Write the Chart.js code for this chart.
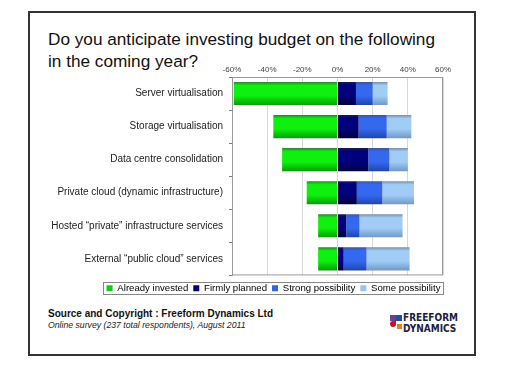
<!DOCTYPE html>
<html>
<head>
<meta charset="utf-8">
<script src="https://cdn.jsdelivr.net/npm/chart.js@4"></script>
<style>
  body { margin: 0; background: #fff; font-family: "Liberation Sans", Arial, sans-serif; }
  #page { position: relative; width: 508px; height: 365px; }
  #frame { position: absolute; left: 28px; top: 11px; width: 444px; height: 341px; border: 2px solid #333; }
  #title { position: absolute; left: 48px; top: 29px; font-size: 17.2px; line-height: 21.5px; color: #111; }
  #wrap { position: absolute; left: 30px; top: 60px; width: 486px; height: 240px; }
  #src1 { position: absolute; left: 48px; top: 308px; font-size: 10px; font-weight: bold; color: #111; }
  #src2 { position: absolute; left: 48px; top: 320px; font-size: 8.7px; font-style: italic; color: #222; }
  #logo { position: absolute; left: 390px; top: 314px; width: 70px; height: 24px; }
  .sq { position: absolute; width: 6px; height: 6px; }
  #logotxt { position: absolute; left: 13px; top: -1px; font-family: "Liberation Sans Narrow", "DejaVu Sans Condensed", sans-serif;
    font-weight: bold; font-size: 10px; line-height: 10.5px; color: #1c2040; }
</style>
</head>
<body>
<div id="page">
  <div id="frame"></div>
  <div id="title">Do you anticipate investing budget on the following<br>in the coming year?</div>
  <div id="wrap"><canvas id="surveyChart" width="486" height="240"></canvas></div>
  <div id="src1">Source and Copyright : Freeform Dynamics Ltd</div>
  <div id="src2">Online survey (237 total respondents), August 2011</div>
  <div id="logo">
    <div class="sq" style="left:0;top:1px;background:#6a3d9a"></div>
    <div class="sq" style="left:6px;top:1px;background:#1f4e9c"></div>
    <div class="sq" style="left:0;top:7px;background:#c8102e;border-radius:3px 0 3px 3px"></div>
    <div class="sq" style="left:7px;top:10px;width:5px;height:5px;background:#ee7d22"></div>
    <div id="logotxt">FREEFORM<br>DYNAMICS</div>
  </div>
</div>
<script>
const categories = [
  "Server virtualisation",
  "Storage virtualisation",
  "Data centre consolidation",
  "Private cloud (dynamic infrastructure)",
  "Hosted \u201cprivate\u201d infrastructure services",
  "External \u201cpublic cloud\u201d services"
];
const alreadyInvested = [-59, -36.5, -31.5, -17.5, -11, -11];
const firmlyPlanned = [10.5, 12, 17.5, 11, 5, 3.5];
const strongPossibility = [9.5, 16, 12, 14.5, 7.5, 13];
const somePossibility = [8.5, 14, 10.5, 18, 24.5, 24.5];
const xTicks = [-60, -40, -20, 0, 20, 40, 60];

// top edge / middle / bottom edge colours for the shaded bars
const shades = {
  green: ["#3a7a3a", "#0ef00e", "#00a000"],
  navy: ["#1a1a50", "#00007c", "#000040"],
  blue: ["#44558a", "#3468ee", "#1d45b0"],
  light: ["#7d8ea4", "#a0ccf6", "#6f98c8"]
};

function shaded(name) {
  const c = shades[name];
  return function(ctx) {
    const chart = ctx.chart;
    const y = chart.scales.y;
    if (!y || ctx.dataIndex === undefined) return c[1];
    const center = y.getPixelForValue(ctx.dataIndex);
    const half = (y.height / categories.length) * 0.7 / 2;
    const g = chart.ctx.createLinearGradient(0, center - half, 0, center + half);
    g.addColorStop(0, c[0]);
    g.addColorStop(0.15, c[1]);
    g.addColorStop(0.6, c[1]);
    g.addColorStop(1, c[2]);
    return g;
  };
}

// legend sits off-centre in the original, move it and put a box round it
const legendShift = { x: 37, y: 3 };
const frameBox = {
  id: "frameBox",
  afterLayout(chart) {
    const l = chart.legend;
    l.left += legendShift.x; l.right += legendShift.x;
    l.top += legendShift.y; l.bottom += legendShift.y;
  },
  afterDraw(chart) {
    const a = chart.chartArea, ctx = chart.ctx;
    ctx.save();
    ctx.strokeStyle = "#999";
    ctx.lineWidth = 1;
    ctx.strokeRect(a.left + 0.5, a.top + 0.5, a.right - a.left - 1, a.bottom - a.top - 1);
    const hb = chart.legend.legendHitBoxes;
    if (hb && hb.length) {
      const x0 = Math.min(...hb.map((b) => b.left));
      const x1 = Math.max(...hb.map((b) => b.left + b.width));
      const y0 = Math.min(...hb.map((b) => b.top));
      const y1 = Math.max(...hb.map((b) => b.top + b.height));
      ctx.strokeStyle = "#888";
      ctx.strokeRect(Math.round(x0 - 4) + 0.5, Math.round(y0 - 1) + 0.5, Math.round(x1 - x0 + 6), Math.round(y1 - y0 + 2));
    }
    ctx.restore();
  }
};

const dataSets = [
  { label: "Already invested", data: alreadyInvested, backgroundColor: shaded("green"), legendColor: "#11cc11" },
  { label: "Firmly planned", data: firmlyPlanned, backgroundColor: shaded("navy"), legendColor: "#000070" },
  { label: "Strong possibility", data: strongPossibility, backgroundColor: shaded("blue"), legendColor: "#3366dd" },
  { label: "Some possibility", data: somePossibility, backgroundColor: shaded("light"), legendColor: "#99c4f0" }
];

const chart = new Chart(document.getElementById("surveyChart"), {
  type: "bar",
  data: {
    labels: categories,
    datasets: dataSets.map((d) => ({
      label: d.label,
      data: d.data,
      backgroundColor: d.backgroundColor,
      borderWidth: 0,
      barPercentage: 0.7,
      categoryPercentage: 1
    }))
  },
  options: {
    indexAxis: "y",
    responsive: false,
    animation: false,
    layout: { padding: { left: 0, right: 73, top: 0, bottom: 0 } },
    scales: {
      x: {
        position: "top",
        stacked: true,
        min: -60,
        max: 60,
        afterBuildTicks: (s) => { s.ticks = xTicks.map((v) => ({ value: v })); },
        afterFit: (s) => { s.height = 17; },
        ticks: {
          callback: (v) => v + "%",
          color: "#444",
          font: { family: "Liberation Sans", size: 8 },
          padding: 2
        },
        grid: { color: "#d8d8d8", drawTicks: false },
        border: { display: false }
      },
      y: {
        stacked: true,
        afterFit: (s) => { s.width = 202; },
        ticks: {
          color: "#222",
          font: { family: "Liberation Sans", size: 10 },
          padding: 6
        },
        grid: { offset: true, drawOnChartArea: false, tickLength: 3, color: "#777" },
        border: { color: "#999" }
      }
    },
    plugins: {
      title: { display: false },
      tooltip: { enabled: false },
      legend: {
        position: "bottom",
        labels: {
          boxWidth: 6,
          boxHeight: 6,
          padding: 5,
          color: "#222",
          font: { family: "Liberation Sans", size: 9.6 },
          generateLabels: (c) => dataSets.map((d, i) => ({
            text: d.label,
            fillStyle: d.legendColor,
            strokeStyle: d.legendColor,
            lineWidth: 0,
            datasetIndex: i
          }))
        }
      }
    }
  },
  plugins: [frameBox]
});
</script>
</body>
</html>
